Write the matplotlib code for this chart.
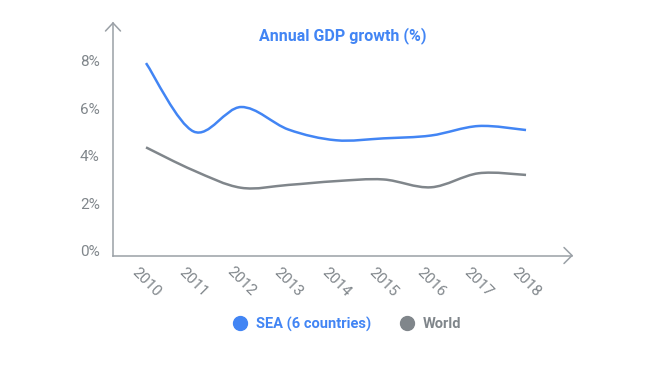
import matplotlib
matplotlib.use('Agg')
import matplotlib.pyplot as plt
from matplotlib.path import Path
from matplotlib.patches import PathPatch
from matplotlib.lines import Line2D
import numpy as np

# data
years = [2010, 2011, 2012, 2013, 2014, 2015, 2016, 2017, 2018]
sea   = [7.9, 5.02, 6.05, 5.1, 4.65, 4.73, 4.85, 5.25, 5.08]
world = [4.35, 3.38, 2.65, 2.77, 2.93, 3.0, 2.67, 3.26, 3.19]
yticks = [0, 2, 4, 6, 8]
title = 'Annual GDP growth (%)'
names = ['SEA (6 countries)', 'World']

BLUE = '#4285f4'
GREY = '#80868b'
AXIS = '#9aa0a6'
W, H = 657, 372

plt.rcParams['font.family'] = ['Roboto', 'DejaVu Sans']

fig = plt.figure(figsize=(W/100, H/100), dpi=100)
# axes box in pixels: left 113, right 572, top 23, bottom 255.5
ax = fig.add_axes([113/W, 1-255.5/H, 459/W, 232.5/H])
ax.set_xlim(2009.305, 2018.968)
ax.set_ylim(-0.202, 9.587)

def smooth_path(xs, ys, k=1/6):
   # cardinal spline through the points as cubic bezier segments
   xs = np.asarray(xs, float); ys = np.asarray(ys, float)
   n = len(xs)
   verts = [(xs[0], ys[0])]
   codes = [Path.MOVETO]
   for i in range(n-1):
      p0 = i-1 if i > 0 else i
      p3 = i+2 if i+2 < n else i+1
      c1 = (xs[i] + (xs[i+1]-xs[p0])*k, ys[i] + (ys[i+1]-ys[p0])*k)
      c2 = (xs[i+1] - (xs[p3]-xs[i])*k, ys[i+1] - (ys[p3]-ys[i])*k)
      verts += [c1, c2, (xs[i+1], ys[i+1])]
      codes += [Path.CURVE4]*3
   return Path(verts, codes)

for vals, col in [(world, GREY), (sea, BLUE)]:
   ax.add_patch(PathPatch(smooth_path(years, vals), fill=False, edgecolor=col,
                          lw=1.8, capstyle='butt', joinstyle='round'))

for s in ['top', 'right']:
   ax.spines[s].set_visible(False)
for s in ['left', 'bottom']:
   ax.spines[s].set_color(AXIS)
   ax.spines[s].set_linewidth(1.1)

ax.set_yticks(yticks)
ax.set_yticklabels([f'{v}%' for v in yticks])
ax.set_xticks(years)
ax.set_xticklabels([str(y) for y in years], rotation=-45, ha='center', va='center')
ax.tick_params(axis='y', length=0, pad=9.5, labelsize=11, labelcolor=GREY)
ax.tick_params(axis='x', length=0, pad=19, labelsize=11, labelcolor=GREY)

# arrow heads on the axes (chevrons), pixel coords -> figure fraction
def pix_line(xp, yp):
   fig.add_artist(Line2D([x/W for x in xp], [1-y/H for y in yp], color=AXIS,
                         lw=1.1, solid_capstyle='round', solid_joinstyle='miter'))
pix_line([105.5, 113, 120.5], [31, 23, 31])
pix_line([564, 572, 564], [247.5, 255.5, 263.5])

fig.text(343/W, 1-36/H, title, color=BLUE, fontsize=11.5, fontweight='bold',
         ha='center', va='center')

handles = [Line2D([], [], ls='', marker='o', ms=10, mfc=BLUE, mec=BLUE),
           Line2D([], [], ls='', marker='o', ms=10, mfc=GREY, mec=GREY)]
leg = fig.legend(handles, names, loc='center', bbox_to_anchor=(347/W, 1-324/H),
                 ncol=2, frameon=False, handlelength=1.0, handletextpad=0.6,
                 columnspacing=2.0, prop={'size': 10.5, 'weight': 'bold'})
for t, c in zip(leg.get_texts(), [BLUE, GREY]):
   t.set_color(c)

fig.savefig('out.png', dpi=100, facecolor='white')
